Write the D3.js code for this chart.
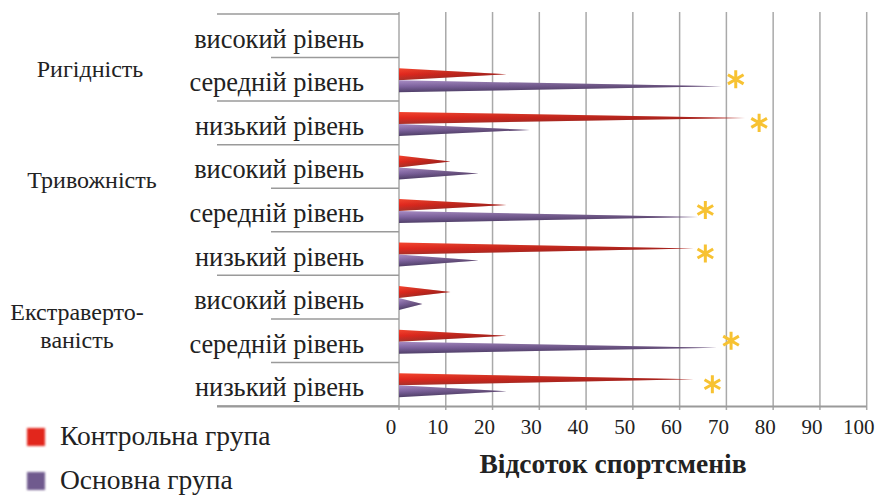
<!doctype html>
<html>
<head>
<meta charset="utf-8">
<script src="https://d3js.org/d3.v7.min.js"></script>
</head>
<body style="margin:0">
<script>
// Дані: рядки зверху вниз
const groups = ["Ригідність", "Тривожність", "Екстраверто-ваність"];
const levels = ["високий рівень", "середній рівень", "низький рівень"];
const control = [0, 23, 74, 11, 23, 63, 11, 23, 63];   // Контрольна група
const main    = [0, 69, 28, 17, 64, 17, 5, 68, 23];    // Основна група
const stars   = [null, 72, 77, null, 65.5, 65.5, null, 71, 67]; // позначки *
const ticks   = [0, 10, 20, 30, 40, 50, 60, 70, 80, 90, 100];
const legend  = ["Контрольна група", "Основна група"];

const FONT = "Liberation Serif";

const rows = [];
groups.forEach((g, gi) => levels.forEach((l, li) => rows.push({ id: gi * 3 + li, group: g, level: l })));

const width = 880, height = 495;
const svg = d3.select("body").append("svg")
  .attr("width", width).attr("height", height)
  .style("display", "block");

const x = d3.scaleLinear().domain([0, 100]).range([399, 866.7]);
const y = d3.scaleBand().domain(rows.map(d => d.id)).range([14, 406]);

// градієнти для «клинів»
const defs = svg.append("defs");
const gr = defs.append("linearGradient").attr("id", "gRed").attr("x1", 0).attr("y1", 0).attr("x2", 0).attr("y2", 1);
gr.append("stop").attr("offset", 0).attr("stop-color", "#f4452f");
gr.append("stop").attr("offset", 0.5).attr("stop-color", "#e2281e");
gr.append("stop").attr("offset", 1).attr("stop-color", "#a8322a");
const gp = defs.append("linearGradient").attr("id", "gPur").attr("x1", 0).attr("y1", 0).attr("x2", 0).attr("y2", 1);
gp.append("stop").attr("offset", 0).attr("stop-color", "#a88cc4");
gp.append("stop").attr("offset", 0.5).attr("stop-color", "#7f64a0");
gp.append("stop").attr("offset", 1).attr("stop-color", "#4f3f68");
// затемнення до вістря
const gs = defs.append("linearGradient").attr("id", "gShade").attr("x1", 0).attr("y1", 0).attr("x2", 1).attr("y2", 0);
gs.append("stop").attr("offset", 0).attr("stop-color", "#000").attr("stop-opacity", 0);
gs.append("stop").attr("offset", 1).attr("stop-color", "#2a1a20").attr("stop-opacity", 0.35);
defs.append("filter").attr("id", "blur").append("feGaussianBlur").attr("stdDeviation", 1.2);

// вертикальна сітка
svg.append("g").selectAll("line").data(ticks).join("line")
  .attr("x1", d => x(d)).attr("x2", d => x(d))
  .attr("y1", 12).attr("y2", 410)
  .attr("stroke", "#a9a9a9").attr("stroke-width", 1.5);

// горизонтальні роздільники
const longSep = [0, 2, 3, 6, 9];
svg.append("g").selectAll("line").data(d3.range(10)).join("line")
  .attr("x1", d => longSep.includes(d) ? 217 : 271)
  .attr("x2", x(0))
  .attr("y1", d => 14 + d * y.step()).attr("y2", d => 14 + d * y.step())
  .attr("stroke", "#9a9a9a").attr("stroke-width", 1.5);

// вісь x
svg.append("line").attr("x1", 217).attr("x2", x(100)).attr("y1", 406.5).attr("y2", 406.5)
  .attr("stroke", "#9a9a9a").attr("stroke-width", 1.8);
svg.append("g").selectAll("text").data(ticks).join("text")
  .attr("font-family", FONT)
  .attr("x", d => x(d) - 8).attr("y", 434)
  .attr("text-anchor", "middle").attr("font-size", 21).attr("fill", "#222")
  .text(d => d);

// клини
const wedge = (v, cy, h) => {
  const x0 = x(0), x1 = x(v);
  return `M${x0},${cy - h / 2}L${x1},${cy}L${x0},${cy + h / 2}Z`;
};
const bh = 12;
const series = [
  { vals: control, dy: -5, fill: "url(#gRed)" },
  { vals: main, dy: 7, fill: "url(#gPur)" }
];
series.forEach(s => {
  const g = svg.append("g");
  const data = rows.filter(r => s.vals[r.id] > 0);
  g.selectAll("path.base").data(data).join("path").attr("class", "base")
    .attr("d", r => wedge(s.vals[r.id], y(r.id) + y.bandwidth() / 2 + s.dy, bh))
    .attr("fill", s.fill);
  g.selectAll("path.shade").data(data).join("path").attr("class", "shade")
    .attr("d", r => wedge(s.vals[r.id], y(r.id) + y.bandwidth() / 2 + s.dy, bh))
    .attr("fill", "url(#gShade)");
});

// зірочки
svg.append("g").selectAll("path").data(rows.filter(r => stars[r.id] != null)).join("path")
  .attr("transform", r => `translate(${x(stars[r.id])},${y(r.id) + y.bandwidth() / 2})`)
  .attr("d", d3.symbol(d3.symbolAsterisk, 230))
  .attr("stroke", "#f7c232").attr("stroke-width", 3).attr("fill", "none");

// підписи рівнів
svg.append("g").selectAll("text").data(rows).join("text")
  .attr("font-family", FONT)
  .attr("x", 364).attr("y", r => y(r.id) + y.bandwidth() / 2 + 12)
  .attr("text-anchor", "end").attr("font-size", 26.4).attr("fill", "#222")
  .text(r => r.level);

// підписи груп
const groupLabel = (t, gx, gy) => svg.append("text")
  .attr("font-family", FONT).attr("font-size", 24).attr("fill", "#222")
  .attr("text-anchor", "middle").attr("x", gx).attr("y", gy).text(t);
groupLabel(groups[0], 90, 77);
groupLabel(groups[1], 92, 188);
groupLabel("Екстраверто-", 77, 320);
groupLabel("ваність", 77, 348);

// назва осі
svg.append("text").attr("font-family", FONT)
  .attr("x", 613).attr("y", 473).attr("text-anchor", "middle")
  .attr("font-size", 27.5).attr("font-weight", "bold").attr("fill", "#222")
  .text("Відсоток спортсменів");

// легенда
const lgFill = ["#e2281e", "#6f5a8e"];
legend.forEach((t, i) => {
  const cy = 437 + i * 44;
  svg.append("rect").attr("x", 27).attr("y", cy - 9).attr("width", 18).attr("height", 18)
    .attr("fill", lgFill[i]).attr("filter", "url(#blur)");
  svg.append("text").attr("font-family", FONT)
    .attr("x", 60).attr("y", cy + 8).attr("font-size", 27.5).attr("fill", "#222").text(t);
});
</script>
</body>
</html>
